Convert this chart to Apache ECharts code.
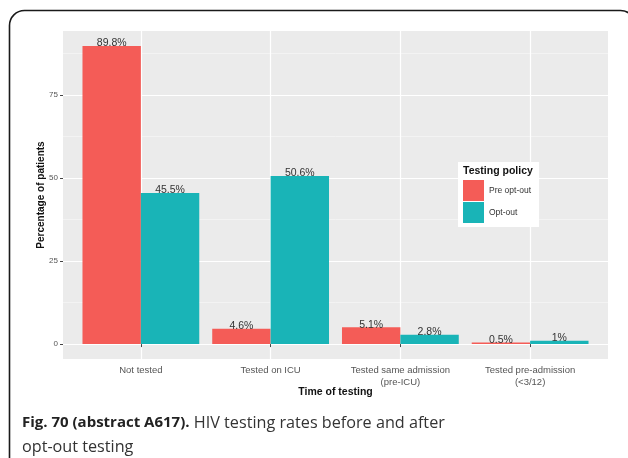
<!DOCTYPE html>
<html>
<head>
<meta charset="utf-8">
<script src="https://cdn.jsdelivr.net/npm/echarts@6/dist/echarts.min.js"></script>
<style>
html,body{margin:0;padding:0;background:#fff;}
#chart{width:628px;height:458px;}
</style>
</head>
<body>
<div id="chart"></div>
<script>
// ---- data ----
const categories = ['Not tested', 'Tested on ICU', 'Tested same admission\n(pre-ICU)', 'Tested pre-admission\n(<3/12)'];
const seriesNames = ['Pre opt-out', 'Opt-out'];
const preOptOut = [89.8, 4.6, 5.1, 0.5];
const optOut = [45.5, 50.6, 2.8, 1];
const yTicks = [0, 25, 50, 75];

const RED = '#F45C57';
const TEAL = '#19B4B7';
const FONT = '"Liberation Sans", Arial, Helvetica, sans-serif';

const chart = echarts.init(document.getElementById('chart'), null, {renderer: 'canvas'});

const barLabel = {
  show: true,
  position: 'top',
  distance: -3,
  color: '#333',
  fontSize: 10.5,
  fontFamily: FONT,
  formatter: p => p.value + '%'
};

const option = {
  animation: false,
  backgroundColor: '#fff',
  grid: [
    {left: 63, right: 20, top: 31, bottom: 99, show: true, backgroundColor: '#EBEBEB', borderWidth: 0},
    {left: 76, right: 33, top: 31, bottom: 99}
  ],
  xAxis: [
    {
      gridIndex: 0, type: 'value', min: 0.4, max: 4.6, minInterval: 1, maxInterval: 1,
      axisLine: {show: false}, axisTick: {show: false}, axisLabel: {show: false},
      splitLine: {show: true, showMinLine: false, showMaxLine: false, lineStyle: {color: '#fff', width: 1.2}}
    },
    {
      gridIndex: 1, type: 'category', data: categories,
      axisLine: {show: false},
      axisTick: {show: true, alignWithLabel: true, length: 3, lineStyle: {color: '#444', width: 1}},
      axisLabel: {margin: 5, fontSize: 9.5, lineHeight: 12, color: '#555', fontFamily: FONT, interval: 0},
      splitLine: {show: false},
      name: 'Time of testing', nameLocation: 'middle', nameGap: 28, nameMoveOverlap: false,
      nameTextStyle: {fontSize: 10.5, fontWeight: 'bold', color: '#111', fontFamily: FONT}
    }
  ],
  yAxis: [
    {
      gridIndex: 0, type: 'value', min: -4.49, max: 94.29, minInterval: 25, maxInterval: 25,
      axisLine: {show: false},
      axisTick: {show: true, length: 3, customValues: yTicks, lineStyle: {color: '#444', width: 1}},
      axisLabel: {customValues: yTicks, margin: 5, fontSize: 8, color: '#555', fontFamily: FONT},
      splitLine: {show: true, lineStyle: {color: '#fff', width: 1.2}},
      minorTick: {show: false, splitNumber: 2},
      minorSplitLine: {show: true, lineStyle: {color: '#F7F7F7', width: 0.7}},
      name: 'Percentage of patients', nameLocation: 'middle', nameGap: 17, nameRotate: 90, nameMoveOverlap: false,
      nameTextStyle: {fontSize: 10, fontWeight: 'bold', color: '#111', fontFamily: FONT}
    },
    {gridIndex: 1, type: 'value', min: -4.49, max: 94.29, show: false}
  ],
  legend: {
    data: seriesNames,
    orient: 'vertical',
    left: 458, top: 162,
    icon: 'rect',
    itemWidth: 21, itemHeight: 21, itemGap: 1,
    padding: [18, 8, 4, 5],
    backgroundColor: '#fff',
    textStyle: {fontSize: 8.5, color: '#333', fontFamily: FONT},
    selectedMode: false
  },
  title: {
    text: 'Testing policy',
    left: 463, top: 166, padding: 0,
    textStyle: {fontSize: 10.5, fontWeight: 'bold', color: '#111', fontFamily: FONT}
  },
  series: [
    {
      name: seriesNames[0], type: 'bar', xAxisIndex: 1, yAxisIndex: 1,
      data: preOptOut, barWidth: '45%', barGap: '0%',
      itemStyle: {color: RED}, label: barLabel
    },
    {
      name: seriesNames[1], type: 'bar', xAxisIndex: 1, yAxisIndex: 1,
      data: optOut, barWidth: '45%', barGap: '0%',
      itemStyle: {color: TEAL}, label: barLabel
    }
  ],
  graphic: [
    {
      type: 'rect', z: 100, silent: true,
      shape: {x: 9.5, y: 10.5, width: 626, height: 470, r: 15},
      style: {fill: 'none', stroke: '#1a1a1a', lineWidth: 1.6}
    },
    {
      type: 'text', z: 100, left: 22, top: 411, silent: true,
      style: {
        text: '{b|Fig. 70 (abstract A617).} HIV testing rates before and after\nopt-out testing',
        fontFamily: '"Open Sans", sans-serif', fontSize: 16.2, lineHeight: 24, fill: '#333',
        rich: {b: {fontFamily: '"Open Sans", sans-serif', fontSize: 15, lineHeight: 24, fontWeight: 'bold', fill: '#222'}}
      }
    }
  ]
};

chart.setOption(option);
</script>
</body>
</html>
